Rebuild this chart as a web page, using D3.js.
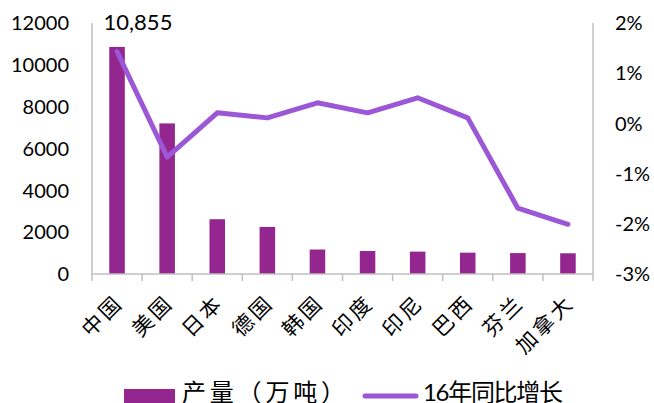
<!DOCTYPE html>
<html><head><meta charset="utf-8">
<script src="https://cdn.jsdelivr.net/npm/d3@7"></script>
<style>
body{margin:0;background:#fff;}
text{font-family:Lato,"Noto Sans CJK SC",sans-serif;fill:#000;}
</style></head>
<body><svg id="c" width="654" height="403"></svg>
<script>
const categories = ["中国","美国","日本","德国","韩国","印度","印尼","巴西","芬兰","加拿大"];
const output = [10855, 7200, 2620, 2250, 1170, 1100, 1070, 1020, 1000, 990];
const growth = [1.43, -0.67, 0.21, 0.11, 0.41, 0.21, 0.51, 0.11, -1.69, -2.01];
const leftTicks = [0, 2000, 4000, 6000, 8000, 10000, 12000];
const rightTicks = [-3, -2, -1, 0, 1, 2];
const seriesNames = ["产量（万吨）", "16年同比增长"];
const peakLabel = "10,855";

const barColor = "#93278F", lineColor = "#9B57D5", axisColor = "#BFBFBF";
const svg = d3.select("#c");
const L = 92, R = 593, T = 23, B = 274;

const x = d3.scaleBand().domain(categories).range([L, R]).paddingInner(0.69).paddingOuter(0.345);
const xb = d3.scaleBand().domain(categories).range([L, R]);
const yL = d3.scaleLinear().domain([0, 12000]).range([B, T]);
const yR = d3.scaleLinear().domain([-3, 2]).range([B, T]);

// axes lines
svg.append("line").attr("x1", L).attr("x2", L).attr("y1", T).attr("y2", B).attr("stroke", axisColor).attr("stroke-width", 1.5);
svg.append("line").attr("x1", R).attr("x2", R).attr("y1", T).attr("y2", B).attr("stroke", axisColor).attr("stroke-width", 1.5);

// bars
svg.selectAll("rect.bar").data(output).enter().append("rect")
  .attr("class","bar")
  .attr("x", (d,i) => x(categories[i]))
  .attr("width", x.bandwidth())
  .attr("y", d => yL(d))
  .attr("height", d => B - yL(d))
  .attr("fill", barColor);

// bottom axis
const xAxis = svg.append("g").attr("transform", `translate(0,${B})`);
xAxis.append("line").attr("x1", L).attr("x2", R).attr("stroke", axisColor).attr("stroke-width", 1.5);
const bounds = categories.map(c => xb(c)).concat([R]);
xAxis.selectAll("line.tk").data(bounds).enter().append("line").attr("class","tk")
  .attr("x1", d => d).attr("x2", d => d).attr("y1", 0).attr("y2", 7)
  .attr("stroke", axisColor).attr("stroke-width", 1.5);

// category labels
svg.selectAll("text.cat").data(categories).enter().append("text").attr("class","cat")
  .attr("transform", d => `translate(${xb(d) + xb.bandwidth()/2 + 7.5},${B + 30}) rotate(-45)`)
  .attr("text-anchor", "end")
  .attr("font-size", 21)
  .attr("letter-spacing", 3)
  .text(d => d);

// left tick labels
svg.selectAll("text.yl").data(leftTicks).enter().append("text").attr("class","yl")
  .attr("x", 69).attr("y", d => yL(d)).attr("dy", "0.36em")
  .attr("text-anchor", "end").attr("font-size", 20)
  .text(d => d);

// right tick labels
svg.selectAll("text.yr").data(rightTicks).enter().append("text").attr("class","yr")
  .attr("x", 615).attr("y", d => yR(d)).attr("dy", "0.36em")
  .attr("text-anchor", "start").attr("font-size", 20)
  .text(d => d + "%");

// line
const line = d3.line().x((d,i) => xb(categories[i]) + xb.bandwidth()/2).y(d => yR(d));
svg.append("path").datum(growth).attr("d", line)
  .attr("fill","none").attr("stroke", lineColor).attr("stroke-width", 5)
  .attr("stroke-linejoin","round").attr("stroke-linecap","round");

// peak label
svg.append("text").attr("x", 138).attr("y", 30).attr("text-anchor","middle").attr("font-size", 22).text(peakLabel);

// legend
svg.append("rect").attr("x", 124).attr("y", 389).attr("width", 51).attr("height", 14).attr("fill", barColor);
svg.append("text").attr("x", 182).attr("y", 401).attr("font-size", 24)
  .attr("textLength", 163).attr("lengthAdjust", "spacing").text(seriesNames[0]);
svg.append("line").attr("x1", 365).attr("x2", 416).attr("y1", 396).attr("y2", 396)
  .attr("stroke", lineColor).attr("stroke-width", 5).attr("stroke-linecap","round");
svg.append("text").attr("x", 423).attr("y", 401).attr("font-size", 24)
  .attr("textLength", 140).attr("lengthAdjust", "spacing").text(seriesNames[1]);
</script></body></html>
